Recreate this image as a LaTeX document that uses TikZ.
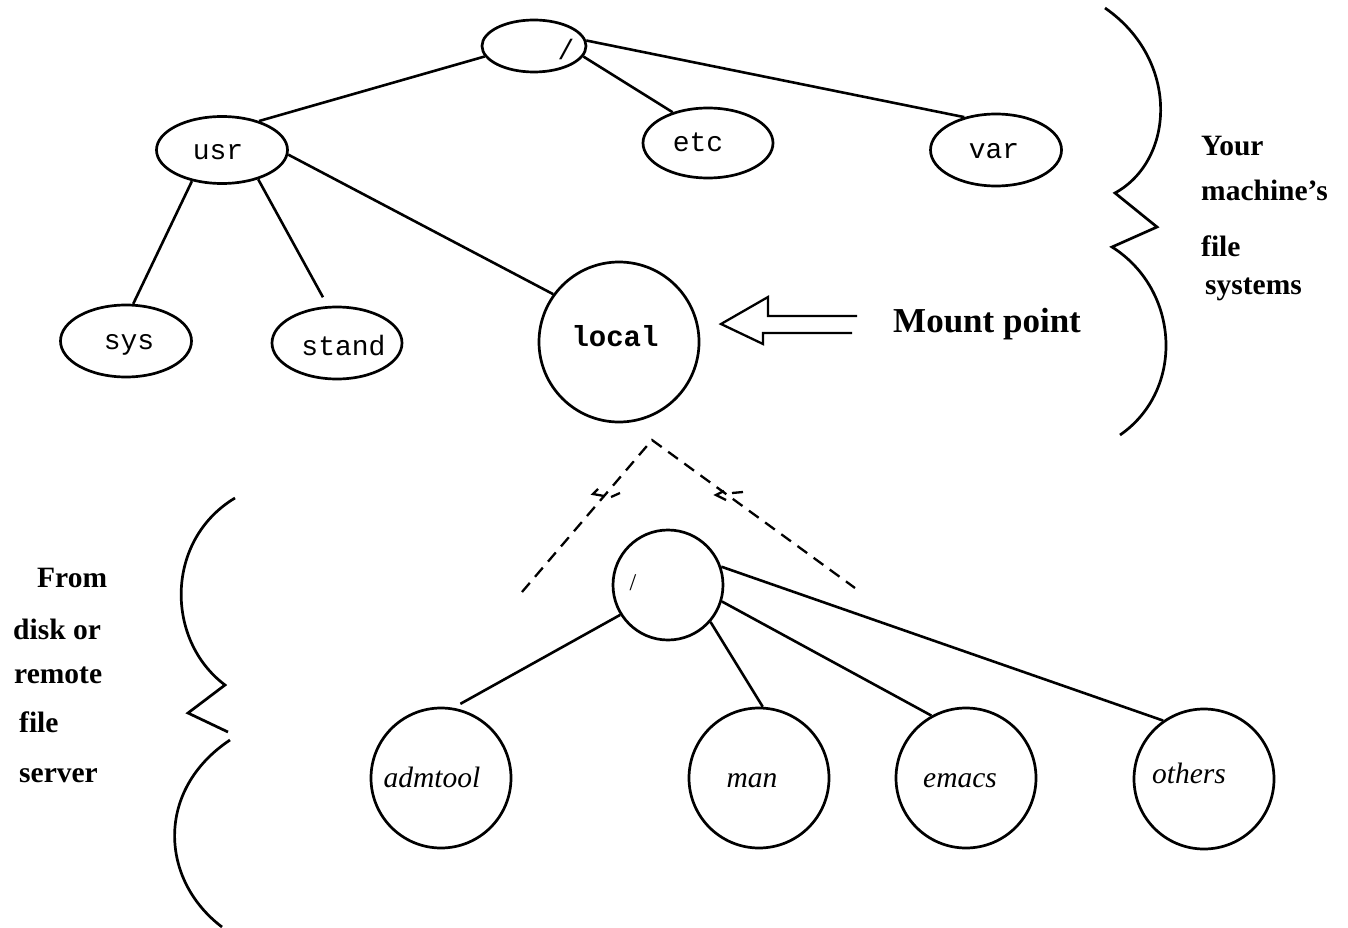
\documentclass[tikz,border=0pt]{standalone}
\usepackage{fontspec}
\setmainfont{Liberation Serif}
\setmonofont{Liberation Mono}
\usetikzlibrary{shapes.geometric}

\tikzset{
  edge/.style={line width=2.6pt},
  dir/.style={ellipse, draw, line width=2.7pt, minimum width=130pt, minimum height=70pt, inner sep=0pt},
  vol/.style={circle, draw, line width=2.7pt, minimum size=140pt, inner sep=0pt},
  ttname/.style={inner sep=0pt, text height=15pt, text depth=0pt,
    font=\ttfamily\fontsize{28}{30}\selectfont},
  itname/.style={inner sep=0pt, text height=13pt, text depth=0pt,
    font=\itshape\fontsize{29.5}{31}\selectfont},
  mountline/.style={line width=2.3pt, dash pattern=on 12pt off 8pt},
  brace/.style={line width=2.7pt, line join=miter},
  note/.style={anchor=west, inner sep=0pt, font=\bfseries\fontsize{29.5}{31}\selectfont},
}

\begin{document}
\begin{tikzpicture}[x=1pt, y=-1pt]
\useasboundingbox (0,0) rectangle (1348,928);

% local file system tree
\node[dir, minimum width=104pt, minimum height=52pt] (root) at (534,46) {};
\node[inner sep=0pt, font=\ttfamily\fontsize{28}{30}\selectfont] (rootname) at (566,49) {/};
\node[dir, minimum width=131pt, minimum height=67pt] (usr) at (222,150) {};
\node[dir] (etc) at (708,143) {};
\node[dir, minimum width=131pt, minimum height=72pt] (var) at (996,150) {};
\node[dir, minimum width=131pt, minimum height=72pt] (sys) at (126,341) {};
\node[dir, minimum width=130pt, minimum height=72pt] (stand) at (337,343) {};
\node[circle, draw, line width=2.7pt, minimum size=160pt, inner sep=0pt] (local) at (619,342) {};

\node[ttname] (usrname) at (218,152.5) {usr};
\node[ttname] (etcname) at (698,144.5) {etc};
\node[ttname] (varname) at (994,151.5) {var};
\node[ttname] (sysname) at (129,341.5) {sys};
\node[ttname] (standname) at (343.5,347.5) {stand};
\node[ttname, font=\ttfamily\bfseries\fontsize{29}{30}\selectfont] (localname) at (615,339) {local};

\draw[edge] (root.192.5) -- (usr.38.7);
\draw[edge] (root.348.5) -- (etc.139.5);
\draw[edge] (root.6.6) -- (var.134.2);
\draw[edge] (usr.226.6) -- (sys.79);
\draw[edge, shorten >=10pt] (usr.321) -- (stand.104);
\draw[edge] (usr.356) -- (local.144.6);

% mount point arrow
\coordinate (mtail1) at (857,316);
\coordinate (mtail2) at (852,333);
\draw[line width=2.3pt, line join=miter] (mtail1) -- (768,316) -- (768,297) -- (721,324)
  -- (763,344) -- (763,333) -- (mtail2);
\node[anchor=west, inner sep=0pt, font=\bfseries\fontsize{35}{37}\selectfont] (mountlbl) at (893,324) {Mount point};

% mounted file system
\node[circle, draw, line width=2.7pt, minimum size=110pt, inner sep=0pt] (broot) at (668,585) {};
\node[inner sep=0pt, font=\fontsize{24}{26}\selectfont] (brootname) at (633,583) {/};
\node[vol] (admtool) at (441,778) {};
\node[vol] (man) at (759,778) {};
\node[vol] (emacs) at (966,778) {};
\node[vol] (others) at (1204,779) {};

\node[itname] (admtoolname) at (432,780.5) {admtool};
\node[itname] (manname) at (752,780.5) {man};
\node[itname] (emacsname) at (960,781) {emacs};
\node[itname] (othersname) at (1189,777) {others};

\draw[edge, shorten >=8pt] (broot.212) -- (admtool.80);
\draw[edge] (broot.319) -- (man.87.5);
\draw[edge] (broot.343.5) -- (emacs.119.7);
\draw[edge] (broot.19.4) -- (others.125.3);

% dashed mount lines
\coordinate (apex) at (652,440);
\coordinate (mleft) at (522,592);
\coordinate (mright) at (855,588);
\draw[mountline] (mleft) -- (apex) -- (mright);
\draw[line width=2.3pt] (598,489) -- (593,494) -- (604,496);
\draw[line width=2.3pt] (611,497) -- (620,493);
\draw[line width=2.3pt] (724,491) -- (716,495) -- (726,500);
\draw[line width=2.3pt] (732,493) -- (743,492);

% braces
\draw[brace] (1105,8) .. controls (1180,60) and (1175,160) .. (1115,193)
  -- (1157,227) -- (1112,247)
  .. controls (1180,290) and (1185,390) .. (1120,435);
\draw[brace] (235,498) .. controls (165,540) and (165,640) .. (225,685)
  -- (188,713) -- (228,732);
\draw[brace] (230,740) .. controls (155,790) and (160,880) .. (222,927);

% captions
\node[note] (your) at (1201,146) {Your};
\node[note] (machine) at (1201,190) {machine's};
\node[note] (file1) at (1201,246) {file};
\node[note] (systems) at (1205,289) {systems};

\node[note] (from) at (37,578) {From};
\node[note] (disk) at (13,629) {disk or};
\node[note] (remote) at (14,675) {remote};
\node[note] (file2) at (19,722) {file};
\node[note] (server) at (19,776) {server};
\end{tikzpicture}
\end{document}
